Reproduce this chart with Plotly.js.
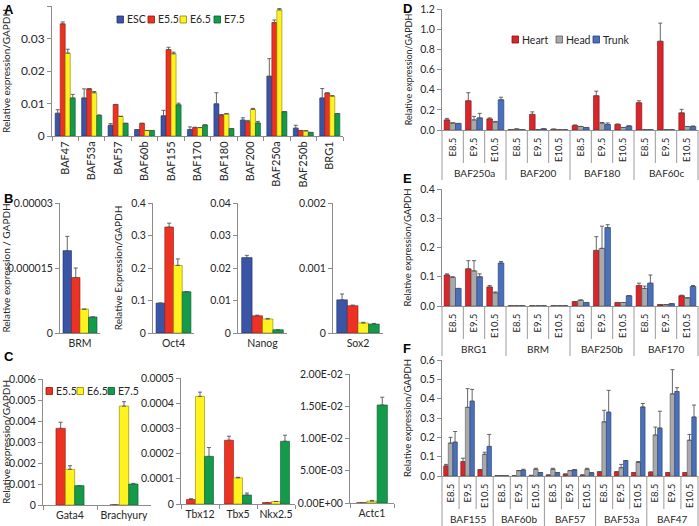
<!DOCTYPE html>
<html><head><meta charset="utf-8">
<script src="https://cdn.plot.ly/plotly-3.0.1.min.js"></script>
<style>html,body{margin:0;padding:0;background:#fff}</style>
</head><body><div id="chart" style="width:699px;height:526px"></div>
<script>
// ---------- Panel A ----------
const genesA = ['BAF47','BAF53a','BAF57','BAF60b','BAF155','BAF170','BAF180','BAF200','BAF250a','BAF250b','BRG1'];
const A_ESC     = [0.0070,0.0117,0.0033,0.0020,0.0062,0.0020,0.0099,0.0049,0.0184,0.0024,0.0117];
const A_ESC_err = [0.0011,0.0028,0.0005,0,0.0017,0.0008,0.0034,0.0007,0.0054,0.0009,0.0029];
const A_E55     = [0.0345,0.0145,0.0097,0.0039,0.0266,0.0026,0.0065,0.0044,0.0349,0.0017,0.0132];
const A_E55_err = [0.0006,0.0001,0,0,0.0007,0.0001,0,0.0004,0.0008,0,0.0001];
const A_E65     = [0.0255,0.0133,0.0060,0.0017,0.0253,0.0026,0.0068,0.0082,0.0388,0.0016,0.0123];
const A_E65_err = [0.0012,0.0004,0.0001,0,0.0005,0,0.0001,0.0003,0.0004,0,0.0001];
const A_E75     = [0.0117,0.0063,0.0039,0.0017,0.0096,0.0034,0.0023,0.0040,0.0075,0.0011,0.0069];
const A_E75_err = [0.0011,0.0002,0,0,0.0005,0,0,0.0005,0,0,0];

// ---------- Panel B ----------
const genesB = ['BRM','Oct4','Nanog','Sox2'];
const B_ESC     = [0.0000190,0.092,0.0232,0.00051];
const B_ESC_err = [0.0000033,0,0.0007,0.00009];
const B_E55     = [0.0000128,0.326,0.0053,0.00042];
const B_E55_err = [0.0000022,0.012,0.0002,0.00001];
const B_E65     = [0.0000055,0.208,0.0043,0.000154];
const B_E65_err = [0,0.020,0.0002,0.00001];
const B_E75     = [0.0000037,0.127,0.0010,0.000138];
const B_E75_err = [0,0,0,0.00001];

// ---------- Panel C ----------
const genesC = ['Gata4','Brachyury','Tbx12','Tbx5','Nkx2.5','Actc1'];
const C_E55     = [0.00365,0.00001,0.000018,0.000253,0.000006,0.00005];
const C_E55_err = [0.00029,0,0.000003,0.000016,0,0];
const C_E65     = [0.00170,0.00471,0.000427,0.000104,0.000010,0.0003];
const C_E65_err = [0.00017,0.00021,0.000017,0.000002,0,0.0001];
const C_E75     = [0.00092,0.00100,0.000189,0.0000356,0.000249,0.0152];
const C_E75_err = [0,0.00003,0.000035,0.000008,0.000024,0.0012];
const actcTickVals = [0,0.005,0.01,0.015,0.02];
const actcTickText = ['0.00E+00','5.00E-03','1.00E-02','1.50E-02','2.00E-02'];

// ---------- Panels D/E/F ----------
const stages = ['E8.5','E9.5','E10.5'];
const genesD = ['BAF250a','BAF200','BAF180','BAF60c'];
const D_heart     = [0.10,0.29,0.11, 0.005,0.155,0.008, 0.045,0.34,0.055, 0.27,0.88,0.17];
const D_heart_err = [0.015,0.08,0.01, 0,0.025,0, 0.005,0.045,0.005, 0.02,0.18,0.035];
const D_head      = [0.07,0.10,0.08, 0.01,0.005,0.003, 0.035,0.07,0.025, 0.005,0.003,0.035];
const D_head_err  = [0,0.035,0.005, 0,0,0, 0,0.005,0, 0,0,0];
const D_trunk     = [0.065,0.12,0.30, 0.005,0.012,0.003, 0.025,0.055,0.04, 0.005,0.003,0.035];
const D_trunk_err = [0,0.045,0.025, 0,0,0, 0,0.015,0, 0,0,0.005];

const genesE = ['BRG1','BRM','BAF250b','BAF170'];
const E_heart     = [0.106,0.127,0.065, 0.001,0.001,0.001, 0.015,0.19,0.012, 0.07,0.005,0.035];
const E_heart_err = [0.004,0.028,0.005, 0,0,0, 0,0.047,0, 0.008,0,0.002];
const E_head      = [0.098,0.12,0.045, 0.001,0.001,0.001, 0.02,0.197,0.012, 0.06,0.005,0.028];
const E_head_err  = [0.002,0.035,0.003, 0,0,0, 0,0.076,0, 0.008,0,0];
const E_trunk     = [0.06,0.10,0.147, 0.001,0.001,0.001, 0.012,0.268,0.035, 0.078,0.008,0.067];
const E_trunk_err = [0,0.01,0.005, 0,0,0, 0,0.01,0, 0.028,0,0.003];

const genesF = ['BAF155','BAF60b','BAF57','BAF53a','BAF47'];
const F_heart     = [0.052,0.075,0.033, 0.002,0.001,0.003, 0.005,0.01,0.005, 0.022,0.022,0.018, 0.02,0.018,0.018];
const F_heart_err = [0.008,0.017,0, 0,0,0, 0,0,0, 0,0,0, 0,0,0];
const F_head      = [0.17,0.355,0.112, 0.002,0.028,0.035, 0.035,0.028,0.035, 0.28,0.043,0.07, 0.212,0.425,0.185];
const F_head_err  = [0.03,0.097,0.011, 0,0,0.005, 0.005,0,0.005, 0.06,0.017,0.005, 0.041,0.125,0.03];
const F_trunk     = [0.175,0.387,0.153, 0.002,0.03,0.018, 0.018,0.032,0.017, 0.33,0.08,0.357, 0.248,0.437,0.305];
const F_trunk_err = [0.055,0.061,0.062, 0,0.005,0, 0,0,0, 0.113,0,0.018, 0.087,0.02,0.062];

// ---------- helpers ----------
const W = 699, H = 526;
const X = p => p / W, Y = p => 1 - p / H;
const FONT = 'Lato, Liberation Sans, Arial, sans-serif';
const COL  = {esc:'#3A55A5', e55:'#EC3323', e65:'#FFF21E', e75:'#149A4B', heart:'#D8262B', head:'#A9A9A9', trunk:'#4C70B8'};
const LINE = {esc:'#1F2F6B', e55:'#8E1A10', e65:'#8A8300', e75:'#0A5A2B', heart:'#7A1215', head:'#5A5A5A', trunk:'#233F7A'};
const SEP = '#9a9a9a';
const AX = n => (n === 1 ? '' : String(n));
const traces = [];
const layout = {
  width: W, height: H, margin: {l:0, r:0, t:0, b:0},
  paper_bgcolor: '#fff', plot_bgcolor: 'rgba(0,0,0,0)',
  barmode: 'overlay', showlegend: false,
  font: {family: FONT, size: 11, color: '#262626'},
  annotations: [], shapes: []
};

function addGroup(ax, xs, series, frac) {
  const n = series.length, w = frac / n;
  series.forEach((s, i) => {
    traces.push({
      type: 'bar', x: xs, y: s.y, xaxis: 'x' + AX(ax), yaxis: 'y' + AX(ax),
      width: w, offset: -frac / 2 + i * w, name: s.name, showlegend: false,
      marker: {color: COL[s.c], line: {color: LINE[s.c], width: 0.6}},
      error_y: {type: 'data', array: s.e, arrayminus: s.e.map(() => 0), symmetric: false,
                color: '#555', thickness: 0.9, width: 2}
    });
  });
}
function yax(n, top, bottom, range, fs, extra) {
  layout['yaxis' + AX(n)] = Object.assign({
    domain: [Y(bottom), Y(top)], anchor: 'x' + AX(n), range: range,
    showline: true, linecolor: '#8c8c8c', linewidth: 1, ticks: 'outside', ticklen: 4,
    tickcolor: '#8c8c8c', showgrid: false, zeroline: false, fixedrange: true,
    tickfont: {size: fs, color: '#262626'}
  }, extra || {});
}
function xax(n, left, right, fs, extra) {
  layout['xaxis' + AX(n)] = Object.assign({
    domain: [X(left), X(right)], anchor: 'y' + AX(n), type: 'category',
    showline: true, linecolor: '#8c8c8c', linewidth: 1, ticks: 'outside', ticklen: 4,
    tickcolor: '#8c8c8c', tickson: 'boundaries', showgrid: false, zeroline: false, fixedrange: true,
    tickangle: 0, tickfont: {size: fs, color: '#262626'}
  }, extra || {});
}
function ytitle(text, standoff, fs) {
  return {text: text, font: {size: fs || 10, color: '#262626'}, standoff: standoff};
}
const pick = (arr, idx) => idx.map(i => arr[i]);

// ---------- Panel A ----------
xax(1, 52, 343, 11, {tickangle: -90, range: [-0.5, genesA.length - 0.5]});
yax(1, 6, 136, [0, 0.04], 12, {dtick: 0.01, title: ytitle('Relative expression/GAPDH', 8, 10)});
addGroup(1, genesA, [
  {name:'ESC', y:A_ESC, e:A_ESC_err, c:'esc'},
  {name:'E5.5', y:A_E55, e:A_E55_err, c:'e55'},
  {name:'E6.5', y:A_E65, e:A_E65_err, c:'e65'},
  {name:'E7.5', y:A_E75, e:A_E75_err, c:'e75'}], 0.76);

// ---------- Panel B ----------
const bPos = [[60,100],[153,194],[238,287],[333,383]];
const bFmt = [{tickvals:[0,0.000015,0.00003], tickformat:'.6~f'}, {dtick:0.1, tickformat:'.1~f'}, {dtick:0.01, tickformat:'.2~f'}, {dtick:0.001, tickformat:'.3~f'}];
const bRange = [[0,0.00003],[0,0.4],[0,0.04],[0,0.002]];
genesB.forEach((g, k) => {
  const n = 2 + k;
  xax(n, bPos[k][0], bPos[k][1], 10.5, {range: [-0.5, 0.5], ticks: ''});
  const extra = Object.assign({}, bFmt[k]);
  if (k === 0) extra.title = ytitle('Relative expression / GAPDH', 6, 10);
  if (k === 1) extra.title = ytitle('Relative Expression/GAPDH', 6, 10);
  yax(n, 203, 333, bRange[k], 10.5, extra);
  addGroup(n, [g], [
    {name:'ESC', y:[B_ESC[k]], e:[B_ESC_err[k]], c:'esc'},
    {name:'E5.5', y:[B_E55[k]], e:[B_E55_err[k]], c:'e55'},
    {name:'E6.5', y:[B_E65[k]], e:[B_E65_err[k]], c:'e65'},
    {name:'E7.5', y:[B_E75[k]], e:[B_E75_err[k]], c:'e75'}], 0.85);
});

// ---------- Panel C ----------
const cGroups = [[0,1],[2,3,4],[5]];
const cX = [[43,151],[181,295],[350,394]];
const cY = [[379,505],[378,504],[374,503]];
const cR = [[0,0.006],[0,0.0005],[0,0.02]];
const cFmt = [{dtick:0.001, tickformat:'.3~f', title: ytitle('Relative expression/GAPDH', 6, 10)},
              {dtick:0.0001, tickformat:'.4~f'},
              {tickvals: actcTickVals, ticktext: actcTickText}];
const cFrac = [0.52, 0.71, 0.7];
cGroups.forEach((idx, k) => {
  const n = 6 + k;
  xax(n, cX[k][0], cX[k][1], 10.5, {range: [-0.5, idx.length - 0.5]});
  yax(n, cY[k][0], cY[k][1], cR[k], 10.5, cFmt[k]);
  addGroup(n, pick(genesC, idx), [
    {name:'E5.5', y:pick(C_E55, idx), e:pick(C_E55_err, idx), c:'e55'},
    {name:'E6.5', y:pick(C_E65, idx), e:pick(C_E65_err, idx), c:'e65'},
    {name:'E7.5', y:pick(C_E75, idx), e:pick(C_E75_err, idx), c:'e75'}], cFrac[k]);
});

// ---------- Panels D/E/F (gene x stage, two-level labels) ----------
const defPanels = [
  {n:9,  genes:genesD, top:9,   bot:130, range:[0,1.2], dtick:0.2, tf:9,   h:D_heart, he:D_heart_err, g:D_head, ge:D_head_err, t:D_trunk, te:D_trunk_err},
  {n:10, genes:genesE, top:189, bot:306, range:[0,0.4], dtick:0.1, tf:9.5, h:E_heart, he:E_heart_err, g:E_head, ge:E_head_err, t:E_trunk, te:E_trunk_err},
  {n:11, genes:genesF, top:360, bot:476, range:[0,0.6], dtick:0.1, tf:9.5, h:F_heart, he:F_heart_err, g:F_head, ge:F_head_err, t:F_trunk, te:F_trunk_err}
];
defPanels.forEach(p => {
  const keys = [], labels = [];
  p.genes.forEach(g => stages.forEach(s => { keys.push(g + ' ' + s); labels.push(s); }));
  const nCat = keys.length, ns = stages.length;
  xax(p.n, 442, 698, 9.5, {tickangle: -90, ticks: '', tickvals: keys, ticktext: labels,
      ticklabelstandoff: 3, range: [-0.5, nCat - 0.5]});
  yax(p.n, p.top, p.bot, p.range, 10.5, {dtick: p.dtick, tickformat: '.1f',
      title: ytitle('Relative expression/GAPDH', 6, p.tf)});
  addGroup(p.n, keys, [
    {name:'Heart', y:p.h, e:p.he, c:'heart'},
    {name:'Head',  y:p.g, e:p.ge, c:'head'},
    {name:'Trunk', y:p.t, e:p.te, c:'trunk'}], 0.8);
  for (let i = 0; i <= nCat; i++) {
    const major = (i % ns === 0);
    const len = major ? 50 : 33;
    layout.shapes.push({type:'line', xref:'x' + p.n + ' domain', yref:'paper',
      x0:i / nCat, x1:i / nCat, y0:Y(p.bot), y1:Y(Math.min(p.bot + len, H)),
      line:{color: SEP, width: 1}});
  }
  p.genes.forEach((g, j) => {
    layout.annotations.push({xref:'x' + p.n + ' domain', yref:'paper', x:(j + 0.5) * ns / nCat,
      y:Y(p.bot + 43), xanchor:'center', yanchor:'middle', text:g, showarrow:false,
      font:{size:10, color:'#262626'}});
  });
});

// ---------- legends (swatch + label) ----------
function legend(items, y0, fs) {
  items.forEach(it => {
    layout.shapes.push({type:'rect', xref:'paper', yref:'paper', x0:X(it.x), x1:X(it.x + 6.5),
      y0:Y(y0 + 3.5), y1:Y(y0 - 3.5), fillcolor:COL[it.c], line:{color:LINE[it.c], width:0.8}});
    layout.annotations.push({xref:'paper', yref:'paper', x:X(it.x + 7.5), y:Y(y0), xanchor:'left', yanchor:'middle',
      text:it.name, showarrow:false, font:{size:fs, color:'#262626'}});
  });
}
legend([{x:117,c:'esc',name:'ESC'},{x:148,c:'e55',name:'E5.5'},{x:180,c:'e65',name:'E6.5'},{x:214,c:'e75',name:'E7.5'}], 19.5, 10.5);
legend([{x:46,c:'e55',name:'E5.5'},{x:77,c:'e65',name:'E6.5'},{x:108,c:'e75',name:'E7.5'}], 391, 10.5);
legend([{x:512,c:'heart',name:'Heart'},{x:556,c:'head',name:'Head'},{x:593,c:'trunk',name:'Trunk'}], 39.5, 10.5);

// ---------- panel letters ----------
[['A',3,1],['B',3,190],['C',3,348],['D',402,0],['E',402,170],['F',402,340]].forEach(l => {
  layout.annotations.push({xref:'paper', yref:'paper', x:X(l[1]), y:Y(l[2]), xanchor:'left', yanchor:'top',
    borderpad:0, text:'<b>' + l[0] + '</b>', showarrow:false, font:{size:13, color:'#000', family:'Liberation Sans, Arial'}});
});

Plotly.newPlot('chart', traces, layout, {staticPlot:true, displayModeBar:false});
</script></body></html>
